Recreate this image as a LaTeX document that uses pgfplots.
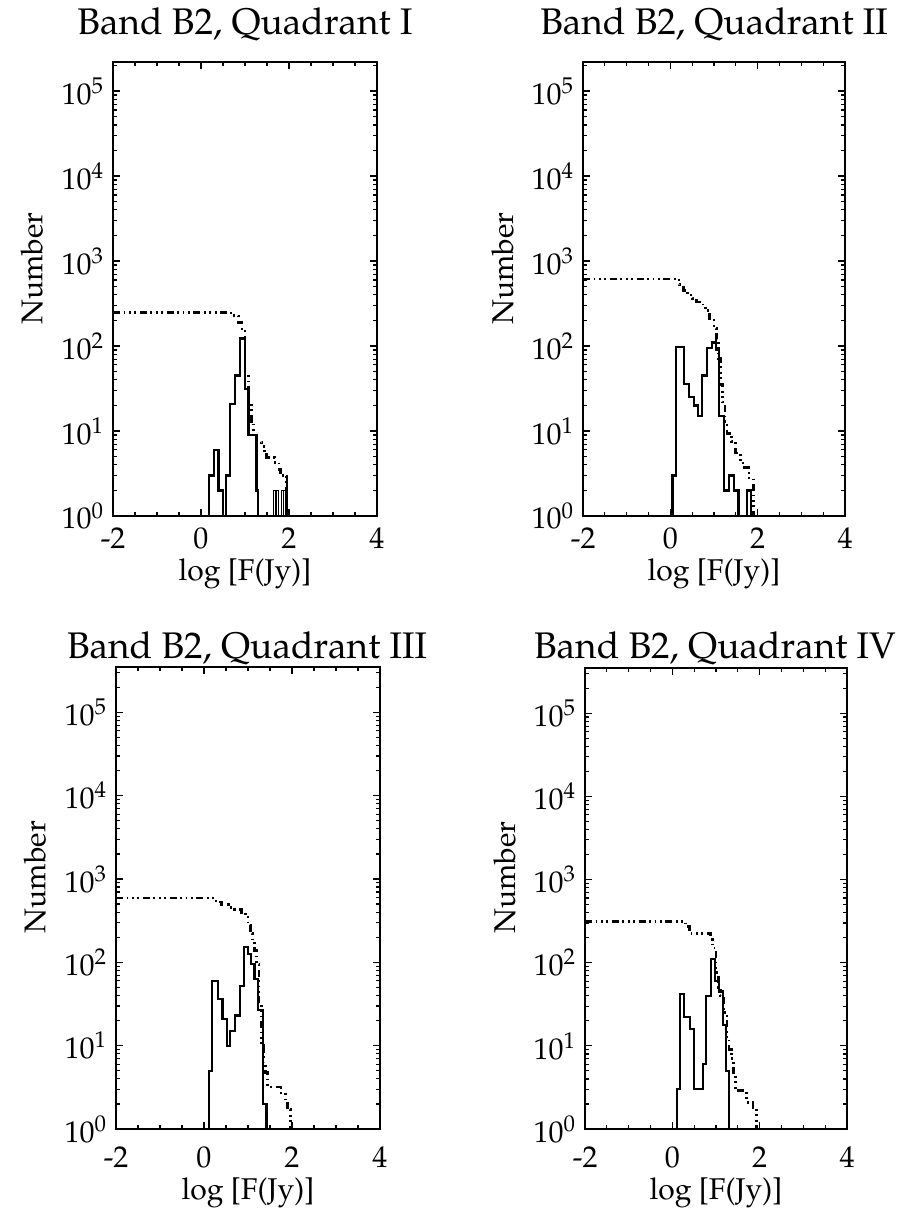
\documentclass[border=0pt]{standalone}
\usepackage[T1]{fontenc}
\usepackage{mathpazo}
\usepackage{pgfplots}
\pgfplotsset{compat=1.18}
\pgfplotsset{
  myPanel/.style={
    scale only axis,
    xmin=-2, xmax=4, ymin=1,
    xtick={-2,0,2,4}, xticklabels={-2,0,2,4}, minor x tick num=3,
    ytick={1,10,100,1000,10000,100000},
    minor ytick={2,3,4,5,6,7,8,9,20,30,40,50,60,70,80,90,200,300,400,500,600,700,800,900,2000,3000,4000,5000,6000,7000,8000,9000,20000,30000,40000,50000,60000,70000,80000,90000,200000,300000},
    tick align=inside,
    major tick length=3.5pt, minor tick length=1.8pt,
    axis line style={line width=0.8pt},
    every tick/.style={black, line width=0.6pt},
    tick label style={font=\fontsize{15}{17}\selectfont},
    yticklabel style={xshift=-1pt},
    xlabel={log [F(Jy)]}, ylabel={Number},
    every axis y label/.style={at={(axis description cs:-0.307,0.545)}, rotate=90, anchor=center, font=\fontsize{15}{17}\selectfont},
  },
  myTop/.style={
    xticklabel style={yshift=-2.5pt},
    every axis x label/.style={at={(axis description cs:0.5,0)}, anchor=base, yshift=-32pt, font=\fontsize{15}{17}\selectfont},
  },
  myBot/.style={
    xticklabel style={yshift=-5.5pt},
    every axis x label/.style={at={(axis description cs:0.5,0)}, anchor=base, yshift=-35pt, font=\fontsize{15}{17}\selectfont},
  },
  myHist/.style={const plot, black, line width=1.1pt, line join=miter},
  myTail/.style={const plot, black, line width=0.65pt, line join=miter},
  myCum/.style={const plot, black, line width=1.35pt,
    dash pattern=on 3.5pt off 1.8pt on 0.9pt off 1.8pt on 0.9pt off 1.8pt on 0.9pt off 1.8pt},
}
\begin{document}
\begin{tikzpicture}
\path[use as bounding box] (0,0) rectangle (450.5pt,-607pt);
\tikzset{ttl/.style={anchor=base, font=\fontsize{18.5}{22}\selectfont}}
\node[ttl] at (122.5pt,-17.5pt) {Band B2, Quadrant I};
\node[ttl] at (357pt,-17.5pt) {Band B2, Quadrant II};
\node[ttl] at (123.5pt,-329pt) {Band B2, Quadrant III};
\node[ttl] at (357.5pt,-329pt) {Band B2, Quadrant IV};

% Panel 1
\begin{semilogyaxis}[myPanel, myTop, at={(56.5pt,-31pt)}, anchor=north west,
  width=132pt, height=227pt, ymax=2.2e5]
\addplot[myHist] coordinates {(0.19,0.01) (0.19,3) (0.29,6) (0.40,2) (0.50,0.01) (0.57,3) (0.66,21) (0.77,45) (0.89,123) (1.00,31) (1.08,9) (1.26,2) (1.30,0.01)};
\addplot[myTail] coordinates {(1.65,0.01) (1.65,2) (1.70,0.01) (1.703,2) (1.755,0.01) (1.83,2) (1.875,0.01) (1.878,2) (1.92,0.01) (1.955,0.01) (1.955,3) (1.96,0.01)};
\addplot[myCum] coordinates {(-2,250) (0.6,245) (0.75,225) (0.85,190) (0.93,150) (1.0,47) (1.075,22) (1.15,13) (1.19,9) (1.26,7.4) (1.38,6.6) (1.45,5.5) (1.49,4.9) (1.68,4.3) (1.77,3.5) (1.8,3) (1.95,0.01)};
\end{semilogyaxis}

% Panel 2
\begin{semilogyaxis}[myPanel, myTop, at={(291.5pt,-31pt)}, anchor=north west,
  width=131pt, height=227pt, ymax=2.2e5]
\addplot[myHist] coordinates {(0.05,0.01) (0.05,3) (0.13,98) (0.31,36) (0.43,25) (0.54,20) (0.64,15) (0.73,45) (0.84,95) (0.96,110) (1.04,90) (1.12,15) (1.23,2) (1.35,3) (1.46,2) (1.56,0.01) (1.75,2) (1.85,0.01)};
\addplot[myCum] coordinates {(-2,615) (0.2,525) (0.3,450) (0.4,400) (0.5,360) (0.6,330) (0.75,300) (0.8,262) (0.9,210) (1.0,160) (1.05,120) (1.1,71) (1.15,35) (1.2,22) (1.25,13) (1.3,9.4) (1.4,7.5) (1.5,5.5) (1.6,4.2) (1.7,3.7) (1.8,2.8) (1.9,0.01)};
\end{semilogyaxis}

% Panel 3
\begin{semilogyaxis}[myPanel, myBot, at={(58pt,-333.5pt)}, anchor=north west,
  width=132pt, height=231pt, ymax=3.5e5]
\addplot[myHist] coordinates {(0.115,0.01) (0.115,5) (0.19,60) (0.31,36) (0.42,21) (0.52,10) (0.59,15) (0.70,23) (0.81,52) (0.91,154) (1.0,125) (1.07,95) (1.15,63) (1.23,27) (1.34,2) (1.42,0.01)};
\addplot[myCum] coordinates {(-2,590) (0.27,530) (0.4,490) (0.55,455) (0.7,430) (0.85,400) (0.95,370) (1.0,280) (1.05,220) (1.1,170) (1.15,140) (1.2,95) (1.25,30) (1.3,10) (1.35,6.3) (1.4,4.8) (1.45,3.2) (1.75,2.7) (1.85,2.2) (1.9,1.7) (1.96,0.01)};
\end{semilogyaxis}

% Panel 4
\begin{semilogyaxis}[myPanel, myBot, at={(292.5pt,-334pt)}, anchor=north west,
  width=131pt, height=230.5pt, ymax=3.5e5]
\addplot[myHist] coordinates {(0.10,0.01) (0.10,3) (0.17,42) (0.27,22) (0.41,16) (0.50,3) (0.70,6) (0.77,40) (0.88,110) (0.97,60) (1.06,45) (1.16,18) (1.22,5) (1.30,0.01)};
\addplot[myCum] coordinates {(-2,316) (0.3,275) (0.4,225) (0.88,190) (0.92,150) (1.0,76) (1.05,50) (1.1,40) (1.17,25) (1.25,12) (1.3,9) (1.35,7) (1.4,4.4) (1.45,2.9) (1.7,2.1) (1.85,1.8) (1.92,0.01)};
\end{semilogyaxis}
\end{tikzpicture}
\end{document}
